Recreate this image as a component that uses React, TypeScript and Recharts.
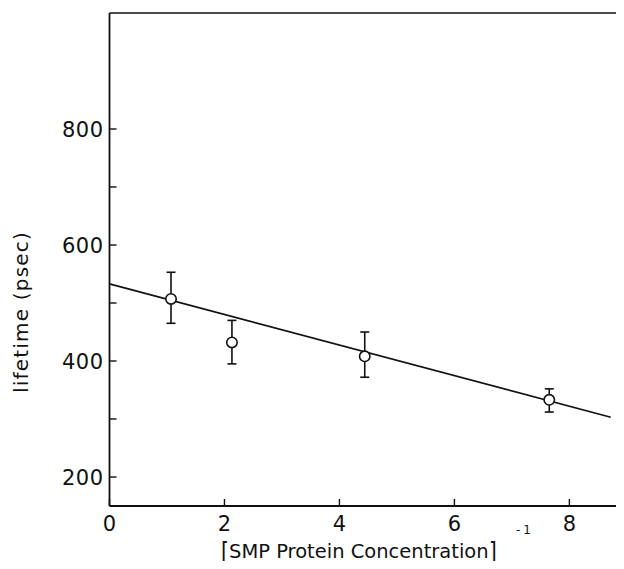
import React from "react";
import { ScatterChart, Scatter, XAxis, YAxis, ErrorBar, ReferenceLine } from "recharts";

const concInv = [1.07, 2.13, 4.44, 7.65];
const lifetimes = [507, 432, 408, 333];
const errLow = [465, 395, 372, 312];
const errHigh = [553, 470, 450, 352];
const fitX = [0, 8.72];
const fitY = [533, 303];
const xTicks = [0, 2, 4, 6, 8];
const yTicks = [200, 300, 400, 500, 600, 700, 800];
const yLabeled = [200, 400, 600, 800];

const points = concInv.map((x, i) => ({
  x,
  y: lifetimes[i],
  err: [lifetimes[i] - errLow[i], errHigh[i] - lifetimes[i]],
}));
const fitLine = fitX.map((x, i) => ({ x, y: fitY[i] }));

const FONT = "'DejaVu Sans', 'Noto Sans', sans-serif";
const INK = "#111";

const XTick = (props: any) => {
  const { x, y, payload } = props;
  return (
    <g>
      <line x1={x} y1={y} x2={x} y2={y - 7} stroke={INK} strokeWidth={1.4} />
      <text x={x} y={y + 25} textAnchor="middle" fontSize={21} fontFamily={FONT} fill={INK}>
        {payload.value}
      </text>
    </g>
  );
};

const YTick = (props: any) => {
  const { x, y, payload } = props;
  const labeled = yLabeled.includes(payload.value);
  return (
    <g>
      <line x1={x} y1={y} x2={x + 7} y2={y} stroke={INK} strokeWidth={1.4} />
      {labeled && (
        <text x={x - 6} y={y + 7.5} textAnchor="end" fontSize={21} fontFamily={FONT} fill={INK} letterSpacing={0.5}>
          {payload.value}
        </text>
      )}
    </g>
  );
};

const Dot = (props: any) => {
  const { cx, cy } = props;
  if (cx == null || cy == null) return <g />;
  return <circle cx={cx} cy={cy} r={5.2} fill="#fff" stroke={INK} strokeWidth={1.6} />;
};

const NoDot = () => <g />;

export default function App() {
  const W = 616;
  const H = 561;
  return (
    <div style={{ width: W, height: H, position: "relative", marginBottom: -8 }}>
      <style>{`html{overflow:hidden}`}</style>
      <ScatterChart
        width={W}
        height={H}
        margin={{ top: 5, right: 0, bottom: 0, left: 0 }}
        style={{ fontFamily: FONT }}
      >
        <XAxis
          type="number"
          dataKey="x"
          domain={[0, 8.95]}
          ticks={xTicks}
          tickSize={0}
          tickMargin={0}
          tick={<XTick />}
          height={63}
          axisLine={{ stroke: INK, strokeWidth: 1.8 }}
          tickLine={false}
          allowDataOverflow
        />
        <YAxis
          type="number"
          dataKey="y"
          domain={[150, 1000]}
          ticks={yTicks}
          tickSize={0}
          tickMargin={0}
          tick={<YTick />}
          width={101.5}
          axisLine={{ stroke: INK, strokeWidth: 1.8 }}
          tickLine={false}
          allowDataOverflow
        />
        <ReferenceLine y={1000} stroke={INK} strokeWidth={1.6} />
        <Scatter
          data={fitLine}
          line={{ stroke: INK, strokeWidth: 1.6 }}
          shape={<NoDot />}
          isAnimationActive={false}
        />
        <Scatter data={points} shape={<Dot />} isAnimationActive={false}>
          <ErrorBar dataKey="err" direction="y" width={4.5} stroke={INK} strokeWidth={1.6} isAnimationActive={false} />
        </Scatter>
      </ScatterChart>
      <svg
        width={W}
        height={H}
        style={{ position: "absolute", left: 0, top: 0, pointerEvents: "none" }}
      >
        <text
          transform="translate(20,304) rotate(-90)"
          textAnchor="middle"
          fontSize={20}
          fontFamily={FONT}
          fill={INK}
          letterSpacing={1.2}
        >
          lifetime  (psec)
        </text>
        <text transform="translate(213,554.5) scale(1,1.45)" fontSize={20} fontFamily={FONT} fill={INK}>
          [
        </text>
        <text x={221} y={550} fontSize={19.5} fontFamily={FONT} fill={INK}>
          SMP Protein Concentration
        </text>
        <text transform="translate(481,554.5) scale(1,1.45)" fontSize={20} fontFamily={FONT} fill={INK}>
          ]
        </text>
        <text x={508} y={526} fontSize={12} fontFamily={FONT} fill={INK} letterSpacing={3}>
          -1
        </text>
      </svg>
    </div>
  );
}
